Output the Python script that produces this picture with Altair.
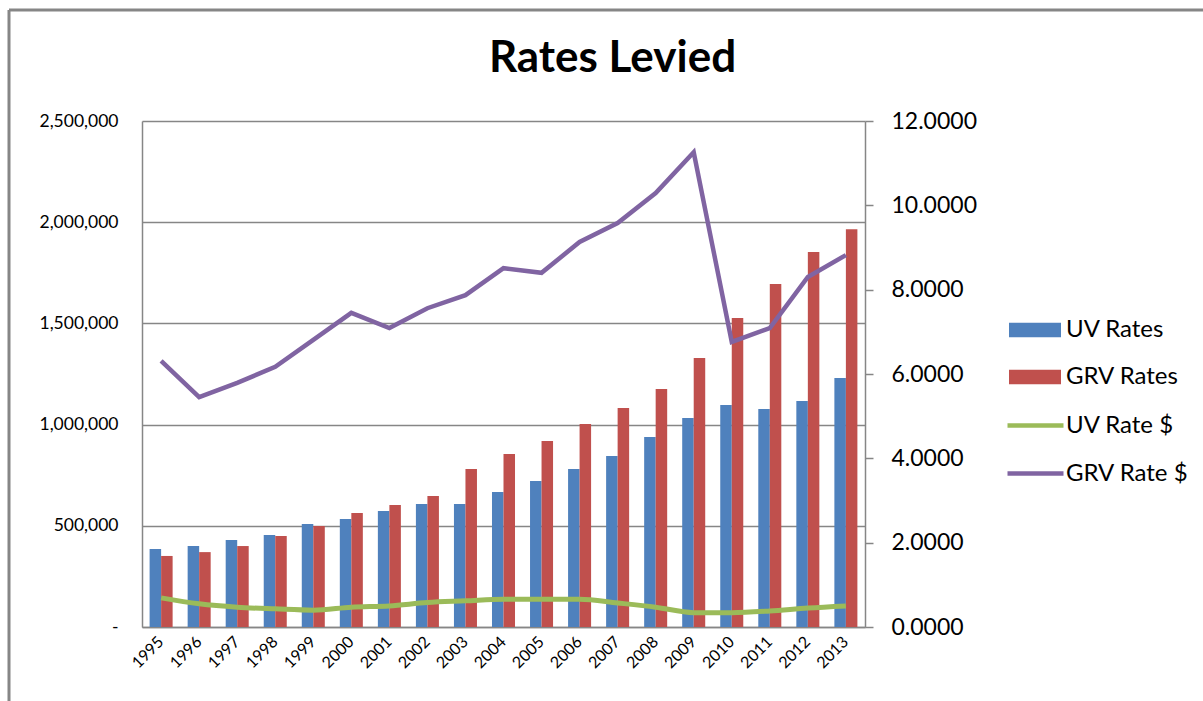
import altair as alt
import pandas as pd

years = [str(y) for y in range(1995, 2014)]
uv_rates = [385000, 400000, 430000, 455000, 509000, 534000, 573000, 608000, 608000, 667000,
            721000, 781000, 845000, 939000, 1033000, 1097000, 1077000, 1117000, 1230000]
grv_rates = [351000, 370000, 400000, 450000, 499000, 563000, 603000, 647000, 781000, 855000,
             919000, 1003000, 1082000, 1176000, 1329000, 1527000, 1695000, 1853000, 1965000]
uv_rate_d = [0.69, 0.55, 0.47, 0.43, 0.40, 0.47, 0.50, 0.58, 0.62, 0.66,
             0.66, 0.66, 0.57, 0.47, 0.34, 0.34, 0.38, 0.45, 0.50]
grv_rate_d = [6.31, 5.45, 5.79, 6.17, 6.81, 7.45, 7.09, 7.56, 7.87, 8.51,
              8.40, 9.13, 9.58, 10.29, 11.26, 6.76, 7.09, 8.30, 8.82]

bar_series = ["UV Rates", "GRV Rates"]
line_series = ["UV Rate $", "GRV Rate $"]

bar_df = pd.DataFrame({
    "year": years * 2,
    "series": [bar_series[0]] * len(years) + [bar_series[1]] * len(years),
    "value": uv_rates + grv_rates,
})
line_df = pd.DataFrame({
    "year": years * 2,
    "series": [line_series[0]] * len(years) + [line_series[1]] * len(years),
    "rate": uv_rate_d + grv_rate_d,
})

FONT = "Lato"
GRAY = "#868686"

x_scale = alt.Scale(paddingInner=0.395, paddingOuter=0.2)
x_enc = alt.X("year:N", scale=x_scale, sort=years,
              axis=alt.Axis(title=None, labelAngle=-45, labelAlign="right", labelBaseline="middle",
                            ticks=False, domainColor=GRAY, domainWidth=1.5, labelFont=FONT,
                            labelFontSize=16, labelColor="black", labelPadding=12, grid=False))

bars = alt.Chart(bar_df).mark_bar().encode(
    x=x_enc,
    xOffset=alt.XOffset("series:N", sort=bar_series, scale=alt.Scale(paddingInner=0)),
    y=alt.Y("value:Q", scale=alt.Scale(domain=[0, 2500000], nice=False),
            axis=alt.Axis(orient="left", title=None, values=[0, 500000, 1000000, 1500000, 2000000, 2500000],
                          labelExpr="datum.value == 0 ? '-' : format(datum.value, ',')",
                          grid=True, gridColor=GRAY, gridWidth=1.5, domainColor=GRAY, domainWidth=1.5,
                          ticks=False, labelPadding=24, labelFont=FONT, labelFontSize=17.5,
                          labelColor="black")),
    fill=alt.Fill("series:N", sort=bar_series,
                  scale=alt.Scale(domain=bar_series, range=["#4F81BD", "#C0504D"]),
                  legend=alt.Legend(title=None, orient="none", legendX=867, legendY=183,
                                    symbolType="M-1,-0.28H1V0.28H-1Z", symbolSize=2704,
                                    symbolStrokeWidth=0, labelFont=FONT, labelFontSize=24,
                                    labelColor="black", labelOffset=5, rowPadding=9, padding=0)),
)

y_right = alt.Y("rate:Q", scale=alt.Scale(domain=[0, 12], nice=False),
                axis=alt.Axis(orient="right", title=None, values=[0, 2, 4, 6, 8, 10, 12], format=".4f",
                              grid=False, domainColor=GRAY, domainWidth=1.5, ticks=True, tickSize=8,
                              tickColor=GRAY, tickWidth=1.5, labelPadding=18, labelFont=FONT,
                              labelFontSize=23, labelColor="black"))
stroke_enc = alt.Stroke("series:N", sort=line_series,
                        scale=alt.Scale(domain=line_series, range=["#9BBB59", "#8064A2"]),
                        legend=alt.Legend(title=None, orient="none", legendX=863, legendY=274,
                                          symbolType="stroke", symbolSize=3136, symbolStrokeWidth=4.5,
                                          labelFont=FONT, labelFontSize=24, labelColor="black",
                                          labelOffset=0, rowPadding=5, padding=0))

green = alt.Chart(line_df).transform_filter(alt.datum.series == line_series[0]).mark_line(
    strokeWidth=5, interpolate="monotone").encode(x=x_enc, y=y_right, stroke=stroke_enc)
purple = alt.Chart(line_df).transform_filter(alt.datum.series == line_series[1]).mark_line(
    strokeWidth=4.5).encode(x=x_enc, y=y_right, stroke=stroke_enc)

lines = alt.layer(green, purple)

frame_df = pd.DataFrame({"k": [0]})
frame_top = alt.Chart(frame_df).mark_rule(color=GRAY, strokeWidth=3).encode(
    x=alt.value(-133), x2=alt.value(1070), y=alt.value(-111))
frame_left = alt.Chart(frame_df).mark_rule(color=GRAY, strokeWidth=3).encode(
    x=alt.value(-133), y=alt.value(-111), y2=alt.value(590))

chart = alt.layer(bars, lines, frame_top, frame_left).resolve_scale(y="independent").properties(
    width=723, height=506,
    autosize=alt.AutoSizeParams(type="none"),
    padding={"left": 142, "top": 121, "right": 338, "bottom": 74},
    title=alt.TitleParams("Rates Levied", font=FONT, fontSize=44, fontWeight="bold",
                          anchor="middle", dx=109, offset=-72, color="black"),
    background="white",
).configure_view(stroke=None)

chart.save("out.html", embed_options={"renderer": "svg", "actions": False})
